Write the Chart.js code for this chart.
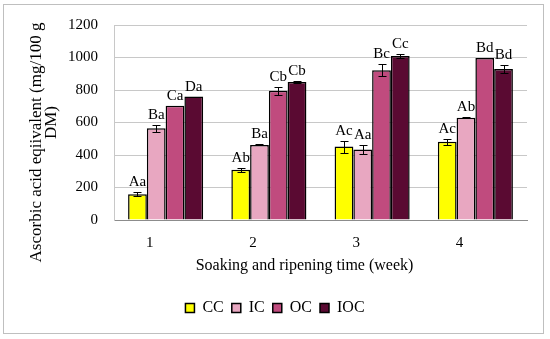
<!DOCTYPE html>
<html>
<head>
<meta charset="utf-8">
<title>Ascorbic acid equivalent</title>
<script src="https://cdn.jsdelivr.net/npm/chart.js@4.4.1/dist/chart.umd.min.js"></script>
<style>
  body { margin: 0; background: #fff; }
  #wrap { position: relative; width: 550px; height: 339px; }
  #frame { position: absolute; left: 3px; top: 4px; width: 539px; height: 328px; border: 1px solid #bfbfbf; pointer-events: none; }
</style>
</head>
<body>
<div id="wrap">
  <canvas id="chart" width="550" height="339"></canvas>
  <div id="frame"></div>
</div>
<script>
// Chart data
const weeks = ['1', '2', '3', '4'];
const seriesNames = ['CC', 'IC', 'OC', 'IOC'];

const ccValues = [158, 310, 452, 482];
const icValues = [564, 462, 434, 630];
const ocValues = [703, 795, 922, 997];
const iocValues = [760, 849, 1009, 930];

const ccErrors = [13, 13, 37, 18];
const icErrors = [23, 3, 26, 2];
const ocErrors = [0, 24, 36, 0];
const iocErrors = [0, 5, 12, 26];

const ccLetters = ['Aa', 'Ab', 'Ac', 'Ac'];
const icLetters = ['Ba', 'Ba', 'Aa', 'Ab'];
const ocLetters = ['Ca', 'Cb', 'Bc', 'Bd'];
const iocLetters = ['Da', 'Cb', 'Cc', 'Bd'];

const yTicks = [0, 200, 400, 600, 800, 1000, 1200];
const yTitle = ['Ascorbic acid eqiivalent (mg/100 g', 'DM)'];
const xTitle = 'Soaking and ripening time (week)';

const colors = ['#ffff00', '#e8a7c1', '#c04b7e', '#5a0a32'];
const serif = "'Liberation Serif', 'Times New Roman', serif";

// Error bars, drawn on the bars through the y scale
const errorBarPlugin = {
    id: 'errorBars',
    afterDatasetsDraw(chart) {
        const ctx = chart.ctx;
        const yScale = chart.scales.y;
        ctx.save();
        ctx.strokeStyle = '#000';
        ctx.lineWidth = 1;
        chart.data.datasets.forEach((ds, i) => {
            const meta = chart.getDatasetMeta(i);
            meta.data.forEach((bar, j) => {
                const err = ds.errors[j];
                if (!err) return;
                const top = Math.round(yScale.getPixelForValue(ds.data[j] + err)) + 0.5;
                const bottom = Math.round(yScale.getPixelForValue(ds.data[j] - err)) + 0.5;
                const x = Math.round(bar.x) + 0.5;
                ctx.beginPath();
                ctx.moveTo(x, top);
                ctx.lineTo(x, bottom);
                ctx.moveTo(x - 4, top);
                ctx.lineTo(x + 4, top);
                ctx.moveTo(x - 4, bottom);
                ctx.lineTo(x + 4, bottom);
                ctx.stroke();
            });
        });
        ctx.restore();
    }
};

// Letter labels above each bar
const letterPlugin = {
    id: 'letters',
    afterDatasetsDraw(chart) {
        const ctx = chart.ctx;
        const yScale = chart.scales.y;
        ctx.save();
        ctx.fillStyle = '#000';
        ctx.font = '15px ' + serif;
        ctx.textAlign = 'center';
        ctx.textBaseline = 'alphabetic';
        chart.data.datasets.forEach((ds, i) => {
            const meta = chart.getDatasetMeta(i);
            meta.data.forEach((bar, j) => {
                const y = yScale.getPixelForValue(ds.data[j] + ds.errors[j]);
                ctx.fillText(ds.letters[j], bar.x, y - 6);
            });
        });
        ctx.restore();
    }
};

// Axis titles (placed like the original, which sits a bit off centre)
const axisTitlePlugin = {
    id: 'axisTitles',
    afterDraw(chart) {
        const ctx = chart.ctx;
        const area = chart.chartArea;
        const midY = (area.top + area.bottom) / 2;
        ctx.save();
        ctx.fillStyle = '#000';
        ctx.textAlign = 'center';
        ctx.textBaseline = 'middle';

        // y title, two rotated lines
        ctx.font = '17px ' + serif;
        ctx.save();
        ctx.translate(area.left - 77, midY + 20);
        ctx.rotate(-Math.PI / 2);
        ctx.fillText(yTitle[0], 0, 0);
        ctx.restore();
        ctx.save();
        ctx.translate(area.left - 62, midY);
        ctx.rotate(-Math.PI / 2);
        ctx.fillText(yTitle[1], 0, 0);
        ctx.restore();

        // x title
        ctx.font = '16px ' + serif;
        ctx.fillText(xTitle, (area.left + area.right) / 2 - 16, area.bottom + 46);
        ctx.restore();
    }
};

function makeDataset(i, values, errors, letters) {
    return {
        label: seriesNames[i],
        data: values,
        errors: errors,
        letters: letters,
        backgroundColor: colors[i],
        borderColor: '#000',
        borderWidth: 1.5,
        barPercentage: 1.0,
        categoryPercentage: 0.727
    };
}

function renderChart() {
    Chart.defaults.font.family = serif;
    Chart.defaults.color = '#000';

    const ctx = document.getElementById('chart').getContext('2d');
    new Chart(ctx, {
        type: 'bar',
        data: {
            labels: weeks,
            datasets: [
                makeDataset(0, ccValues, ccErrors, ccLetters),
                makeDataset(1, icValues, icErrors, icLetters),
                makeDataset(2, ocValues, ocErrors, ocLetters),
                makeDataset(3, iocValues, iocErrors, iocLetters)
            ]
        },
        options: {
            responsive: false,
            animation: false,
            layout: {
                padding: { top: 23, right: 23, bottom: 13, left: 23 }
            },
            plugins: {
                legend: {
                    position: 'bottom',
                    labels: {
                        boxWidth: 9,
                        boxHeight: 9,
                        padding: 8,
                        font: { size: 16 }
                    }
                },
                tooltip: { enabled: false }
            },
            scales: {
                x: {
                    grid: { display: false, drawTicks: false },
                    border: { display: true, color: '#8c8c8c', width: 1 },
                    ticks: { padding: 14, labelOffset: -16, font: { size: 15 } },
                    afterFit(scale) {
                        scale.height = 339 - 220 - 13 - scale.chart.legend.height;
                    }
                },
                y: {
                    min: 0,
                    max: 1200,
                    grid: { color: '#c8c8c8', drawTicks: false },
                    border: { display: true, color: '#c8c8c8' },
                    ticks: {
                        padding: 16,
                        stepSize: 200,
                        font: { size: 15 },
                        callback: (v) => yTicks.includes(v) ? String(v) : ''
                    },
                    afterFit(scale) {
                        scale.width = 114 - 23;
                    }
                }
            }
        },
        plugins: [errorBarPlugin, letterPlugin, axisTitlePlugin]
    });
}

document.addEventListener('DOMContentLoaded', renderChart);
</script>
</body>
</html>
